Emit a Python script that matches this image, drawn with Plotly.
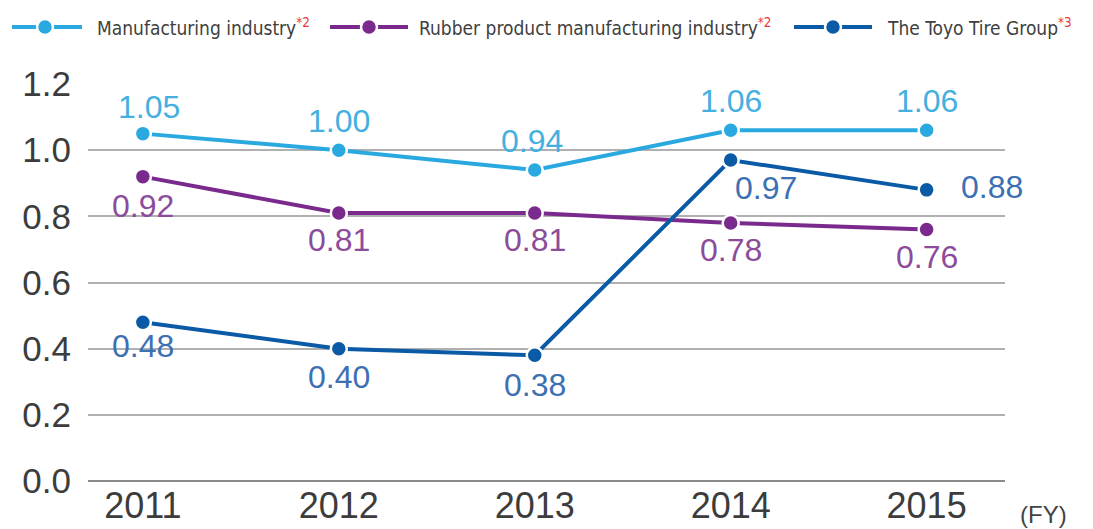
import plotly.graph_objects as go

# Fiscal years and ratios per series
years = [2011, 2012, 2013, 2014, 2015]
manufacturing = [1.05, 1.00, 0.94, 1.06, 1.06]
rubber = [0.92, 0.81, 0.81, 0.78, 0.76]
toyo = [0.48, 0.40, 0.38, 0.97, 0.88]
y_ticks = [0.0, 0.2, 0.4, 0.6, 0.8, 1.0, 1.2]

series_names = ["Manufacturing industry", "Rubber product manufacturing industry", "The Toyo Tire Group"]
series_notes = ["*2", "*2", "*3"]

C_MFG, C_RUB, C_TOYO = "#2aa9e0", "#7a2a8c", "#0b5aa6"
L_MFG, L_RUB, L_TOYO = "#45b0e0", "#8b4c9b", "#3d70b2"

# label offsets in pixels (dx, dy) for each point
mfg_off = [(6, 27), (0, 29), (-3, 29), (0, 29), (0, 29)]
rub_off = [(0, -29), (0, -27), (0, -27), (0, -27), (0, -27)]
toyo_off = [(0, -24), (0, -28), (0, -30), (35, -28), (65, 3)]

fig = go.Figure()

for vals, col in [(manufacturing, C_MFG), (rubber, C_RUB), (toyo, C_TOYO)]:
    fig.add_trace(go.Scatter(
        x=years, y=vals, mode="lines+markers",
        line=dict(color=col, width=4),
        marker=dict(color=col, size=16, line=dict(color="white", width=2.5)),
        showlegend=False, hoverinfo="skip",
    ))

for vals, offs, col in [(manufacturing, mfg_off, L_MFG), (rubber, rub_off, L_RUB), (toyo, toyo_off, L_TOYO)]:
    for x, v, (dx, dy) in zip(years, vals, offs):
        fig.add_annotation(
            x=x, y=v, text=f"{v:.2f}", showarrow=False,
            xshift=dx, yshift=dy,
            font=dict(family="Liberation Sans", size=32, color=col),
        )

# Legend built from lines, dots and text above the plot area
X0, X1, Y0, Y1 = 88, 1005, 481, 84
def px(x):
    return (x - X0) / (X1 - X0)
def py(y):
    return (Y0 - y) / (Y0 - Y1)

legend_items = [
    (12, 82, 45, 95, C_MFG),
    (330, 408, 369, 417, C_RUB),
    (794, 872, 833, 885, C_TOYO),
]
ly = 27
for (a, b, m, t, col), name, note in zip(legend_items, series_names, series_notes):
    fig.add_shape(type="line", xref="paper", yref="paper",
                  x0=px(a), x1=px(b), y0=py(ly), y1=py(ly),
                  line=dict(color=col, width=4))
    fig.add_shape(type="circle", xref="paper", yref="paper",
                  xsizemode="pixel", ysizemode="pixel",
                  xanchor=px(m), yanchor=py(ly),
                  x0=-8, x1=8, y0=-8, y1=8,
                  fillcolor=col, line=dict(color="white", width=2.5))
    fig.add_annotation(
        xref="paper", yref="paper", x=px(t), y=py(ly),
        xanchor="left", yanchor="middle", showarrow=False,
        text=f"{name}<sup><span style='color:#e8383d'>{note}</span></sup>",
        font=dict(family="DejaVu Sans Condensed, Liberation Sans", size=19, color="#404040"),
    )

fig.add_annotation(
    xref="paper", yref="paper", x=px(1043), y=py(514),
    xanchor="center", yanchor="middle", showarrow=False,
    text="(FY)", font=dict(family="Liberation Sans", size=24, color="#444444"),
)

fig.update_layout(
    width=1093, height=529,
    margin=dict(l=X0, r=1093 - X1, t=Y1, b=529 - Y0, autoexpand=False),
    paper_bgcolor="white", plot_bgcolor="white",
    font=dict(family="Liberation Sans", color="#333333"),
)
fig.update_xaxes(
    range=[2010.72, 2015.40], tickvals=years, ticktext=[str(y) for y in years],
    showgrid=False, zeroline=False, showline=False, automargin=False,
    tickfont=dict(size=36, color="#3c3c3c"), ticks="", ticklabelstandoff=0,
)
fig.update_yaxes(
    range=[0, 1.2], tickvals=y_ticks, ticktext=[f"{t:.1f}" for t in y_ticks],
    showgrid=True, gridcolor="#b0b0b0", gridwidth=1.5,
    zeroline=True, zerolinecolor="#8a8a8a", zerolinewidth=2,
    showline=False, ticks="", ticklabelstandoff=16, automargin=False,
    tickfont=dict(size=35, color="#3c3c3c"),
)

fig.write_html("out.html")
